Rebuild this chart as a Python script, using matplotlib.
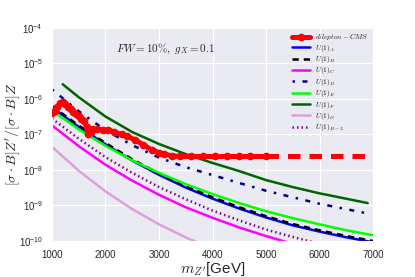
import numpy as np
import matplotlib
matplotlib.use("Agg")
import matplotlib.pyplot as plt
import seaborn as sns

sns.set_style("darkgrid")
plt.rcParams['font.family'] = ['Liberation Sans', 'DejaVu Sans']
plt.rcParams['mathtext.fontset'] = 'cm'

# dilepton CMS limit
cms_mass = [1000, 1050, 1100, 1150, 1200, 1250, 1300, 1350, 1400, 1450, 1500, 1550,
            1600, 1650, 1680, 1720, 1760, 1850, 1950, 2050, 2150, 2300, 2400, 2550,
            2700, 2860, 3000, 3100, 3250, 3400, 3600, 3820, 4050, 4270, 4500, 4700, 5000]
cms_val = [3.9e-7, 4.6e-7, 6.0e-7, 7.5e-7, 8.0e-7, 7.0e-7, 6.0e-7, 5.2e-7, 4.4e-7, 3.8e-7,
           3.3e-7, 2.8e-7, 2.4e-7, 1.6e-7, 1.0e-7, 1.2e-7, 1.4e-7, 1.4e-7, 1.35e-7, 1.35e-7,
           1.2e-7, 1.0e-7, 9.0e-8, 7.1e-8, 5.2e-8, 3.7e-8, 3.1e-8, 2.8e-8, 2.5e-8, 2.4e-8,
           2.4e-8, 2.4e-8, 2.4e-8, 2.4e-8, 2.4e-8, 2.4e-8, 2.4e-8]
cms_ext_mass = [5000, 7000]
cms_ext_val = [2.4e-8, 2.4e-8]

# model curves
mass = [1000, 1500, 2000, 2500, 3000, 3500, 4000, 4500, 5000, 5500, 6000, 6500, 7000]
u1_a = [5.8e-7, 1.64e-7, 5.3e-8, 1.84e-8, 7.3e-9, 3.2e-9, 1.56e-9, 8.2e-10, 4.6e-10,
        2.76e-10, 1.84e-10, 1.27e-10, 0.92e-10]
u1_b = [6.3e-7, 1.78e-7, 5.75e-8, 2.0e-8, 7.9e-9, 3.5e-9, 1.7e-9, 8.9e-10, 5.0e-10,
        3.0e-10, 2.0e-10, 1.38e-10, 1.0e-10]
u1_c = [1.8e-7, 4.7e-8, 1.4e-8, 5.0e-9, 2.0e-9, 8.9e-10, 4.5e-10, 2.4e-10, 1.38e-10,
        0.83e-10]
d_mass = [1000, 1500, 2000, 2500, 3000, 3500, 4000, 4500, 5000, 5500, 6000, 6500, 6950]
u1_d = [1.86e-6, 4.5e-7, 1.32e-7, 5.0e-8, 2.24e-8, 1.2e-8, 7.2e-9, 4.3e-9, 2.6e-9,
        1.7e-9, 1.12e-9, 7.9e-10, 5.75e-10]
u1_e = [4.7e-7, 1.4e-7, 4.8e-8, 1.86e-8, 8.3e-9, 4.0e-9, 2.1e-9, 1.17e-9, 6.9e-10,
        4.4e-10, 2.95e-10, 2.0e-10, 1.45e-10]
f_mass = [1200, 1500, 2000, 2500, 3000, 3500, 4000, 4500, 5000, 5500, 6000, 6500, 6900]
u1_f = [2.6e-6, 1.12e-6, 3.2e-7, 1.17e-7, 5.4e-8, 2.8e-8, 1.58e-8, 9.3e-9, 5.2e-9,
        3.3e-9, 2.2e-9, 1.55e-9, 1.17e-9]
u1_g = [4.5e-8, 9.5e-9, 2.5e-9, 7.9e-10, 2.95e-10, 1.26e-10, 0.6e-10]
u1_bl = [2.8e-7, 7.6e-8, 2.3e-8, 8.3e-9, 3.3e-9, 1.5e-9, 7.2e-10, 3.8e-10, 2.1e-10,
         1.3e-10, 0.83e-10]

fig = plt.figure(figsize=(4.15, 2.77), dpi=100)
ax = fig.add_axes([0.1253, 0.13, 0.7735, 0.769])

lw = 1.8
ax.plot(cms_mass, cms_val, color='red', lw=3.6, marker='o', ms=4.5,
        label=r'$dilepton-CMS$', zorder=5)
ax.plot(cms_ext_mass, cms_ext_val, color='red', lw=3.6, ls=(0, (2.5, 1.8)), zorder=5)
ax.plot(mass, u1_a, color='blue', lw=lw, label=r'$U(1)_A$')
ax.plot(mass, u1_b, color='black', lw=lw, ls=(0, (2.5, 2.0)), label=r'$U(1)_B$')
ax.plot(mass[:len(u1_c)], u1_c, color='#ff00ff', lw=lw, label=r'$U(1)_C$')
ax.plot(d_mass, u1_d, color='#000080', lw=lw, ls=(0, (1, 3, 2, 3)), label=r'$U(1)_D$')
ax.plot(mass, u1_e, color='#00ff00', lw=lw, label=r'$U(1)_E$')
ax.plot(f_mass, u1_f, color='#006400', lw=lw, label=r'$U(1)_F$')
ax.plot(mass[:len(u1_g)], u1_g, color='plum', lw=lw, label=r'$U(1)_G$')
ax.plot(mass[:len(u1_bl)], u1_bl, color='purple', lw=lw, ls=(0, (0.6, 1.2)),
        label=r'$U(1)_{B-L}$')

ax.set_yscale('log')
ax.set_xlim(1000, 7000)
ax.set_ylim(1e-10, 1e-4)
ax.set_xticks([1000, 2000, 3000, 4000, 5000, 6000, 7000])
ax.minorticks_off()
ax.set_yticks([1e-10, 1e-9, 1e-8, 1e-7, 1e-6, 1e-5, 1e-4])
ax.tick_params(labelsize=7, pad=3)

ax.set_xlabel(r"$m_{Z'}$[GeV]", fontsize=11, labelpad=0)
ax.set_ylabel(r"$[\sigma\cdot B]Z'/[\sigma\cdot B]Z$", fontsize=10)
ax.yaxis.set_label_coords(-0.095, 0.5)

ax.text(0.2, 0.9, r'$FW=10\%,\ g_X=0.1$', transform=ax.transAxes, fontsize=8,
        va='center', ha='left')

ax.legend(loc='upper right', fontsize=5.3, frameon=False, handlelength=2.5,
          labelspacing=0.05, borderaxespad=0.3, handletextpad=0.6, borderpad=0.3)

fig.savefig('out.png', dpi=100)
